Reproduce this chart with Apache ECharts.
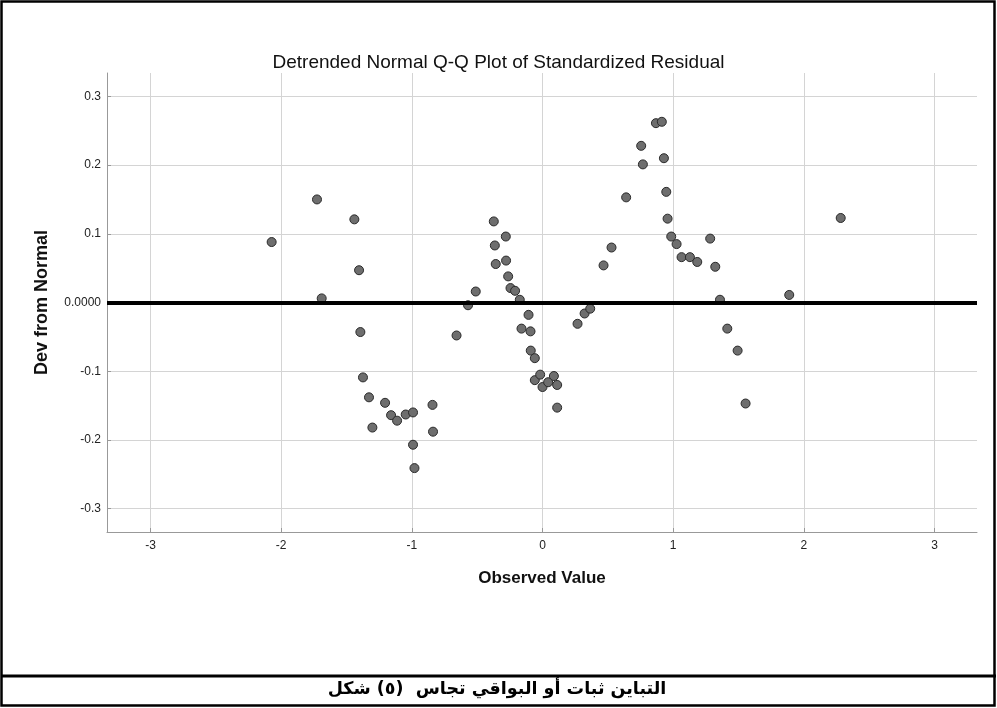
<!DOCTYPE html>
<html>
<head>
<meta charset="utf-8">
<title>Detrended Normal Q-Q Plot</title>
<script src="https://cdn.jsdelivr.net/npm/echarts@6/dist/echarts.min.js"></script>
<style>
  html, body { margin: 0; padding: 0; background: #fff; }
  #qqChart { width: 997px; height: 708px; }
</style>
</head>
<body>
<div id="qqChart"></div>
<script>
var obsX = [-2.073, -1.726, -1.690, -1.440, -1.404, -1.394, -1.374, -1.328, -1.302, -1.205,
            -1.159, -1.113, -1.047, -0.991, -0.991, -0.980, -0.842, -0.838, -0.658, -0.570,
            -0.511, -0.373, -0.365, -0.358, -0.281, -0.279, -0.263, -0.245, -0.210, -0.174,
            -0.161, -0.107, -0.092, -0.090, -0.059, -0.059, -0.018, 0.000, 0.043, 0.087,
            0.112, 0.112, 0.268, 0.322, 0.365, 0.467, 0.528, 0.640, 0.755, 0.768,
            0.868, 0.913, 0.929, 0.947, 0.957, 0.985, 1.026, 1.064, 1.128, 1.184,
            1.283, 1.322, 1.358, 1.414, 1.493, 1.554, 1.888, 2.282];
var devY = [0.088, 0.150, 0.006, 0.121, 0.047, -0.043, -0.109, -0.138, -0.182, -0.146,
            -0.164, -0.172, -0.163, -0.160, -0.207, -0.241, -0.149, -0.188, -0.048, -0.004,
            0.016, 0.118, 0.083, 0.056, 0.096, 0.061, 0.038, 0.021, 0.017, 0.004,
            -0.038, -0.018, -0.042, -0.070, -0.081, -0.113, -0.105, -0.123, -0.116, -0.107,
            -0.120, -0.153, -0.031, -0.016, -0.009, 0.054, 0.080, 0.153, 0.228, 0.201,
            0.261, 0.263, 0.210, 0.161, 0.122, 0.096, 0.085, 0.066, 0.066, 0.059,
            0.093, 0.052, 0.004, -0.038, -0.070, -0.147, 0.011, 0.123];

var xRange = [-3.333, 3.325];
var yRange = [-0.334, 0.334];
var refLine = [0];

var chartTitle = 'Detrended Normal Q-Q Plot of Standardized Residual';
var xName = 'Observed Value';
var yName = 'Dev from Normal';
// the figure shows these words left to right
var captionWords = ['شكل', '(٥)', 'تجاس', 'البواقي', 'أو', 'ثبات', 'التباين'];

initQQChart();

// one text element per word, placed left to right (canvas bidi would flip the order)
function captionGraphics(words, cx, top, fontSize) {
  var fontCss = 'bold ' + fontSize + 'px "DejaVu Sans"';
  var ctx = document.createElement('canvas').getContext('2d');
  ctx.font = fontCss;
  var space = ctx.measureText(' ').width;
  var widths = words.map(function (w) { return ctx.measureText(w).width; });
  var total = 0;
  widths.forEach(function (w, i) { total += w + (i ? space : 0); });
  total += space; // double space after the figure number
  var x = cx - total / 2;
  var out = [];
  words.forEach(function (w, i) {
    out.push({
      type: 'text',
      silent: true,
      x: x,
      y: top,
      style: {
        text: w,
        fontFamily: 'DejaVu Sans',
        fontSize: fontSize,
        fontWeight: 'bold',
        fill: '#000',
        align: 'left',
        verticalAlign: 'top'
      }
    });
    x += widths[i] + space + (i === 1 ? space : 0);
  });
  return out;
}

function initQQChart() {
  var dom = document.getElementById('qqChart');
  var myChart = echarts.init(dom, null, {renderer: 'canvas'});
  var points = [];
  for (var i = 0; i < obsX.length; i++) {
    points.push([obsX[i], devY[i]]);
  }
  var font = 'Liberation Sans, Arial, sans-serif';

  var frame = [
    {
      type: 'rect',
      silent: true,
      shape: {x: 1.5, y: 1.5, width: 993, height: 704},
      style: {fill: 'none', stroke: '#000', lineWidth: 2.5}
    },
    {
      type: 'line',
      silent: true,
      shape: {x1: 1, y1: 676, x2: 996, y2: 676},
      style: {stroke: '#000', lineWidth: 3}
    }
  ];

  var option = {
    backgroundColor: '#fff',
    animation: false,
    title: {
      text: chartTitle,
      left: 'center',
      top: 48,
      textStyle: {fontFamily: font, fontSize: 19, fontWeight: 'normal', color: '#111'}
    },
    grid: {left: 107, right: 20, top: 73, bottom: 176},
    xAxis: {
      type: 'value',
      min: xRange[0],
      max: xRange[1],
      name: xName,
      nameLocation: 'middle',
      nameGap: 38,
      nameTextStyle: {fontFamily: font, fontSize: 17, fontWeight: 'bold', color: '#111'},
      axisLine: {show: true, onZero: false, lineStyle: {color: '#999', width: 1}},
      axisTick: {show: true, inside: true, length: 4, lineStyle: {color: '#999'}},
      axisLabel: {
        fontFamily: font, fontSize: 12, color: '#222', margin: 8,
        showMinLabel: false, showMaxLabel: false
      },
      splitLine: {show: true, showMinLine: false, showMaxLine: false, lineStyle: {color: '#d4d4d4', width: 1}}
    },
    yAxis: {
      type: 'value',
      min: yRange[0],
      max: yRange[1],
      name: yName,
      nameLocation: 'middle',
      nameGap: 56,
      nameTextStyle: {fontFamily: font, fontSize: 18, fontWeight: 'bold', color: '#111'},
      axisLine: {show: true, onZero: false, lineStyle: {color: '#999', width: 1}},
      axisTick: {show: true, inside: true, length: 4, lineStyle: {color: '#999'}},
      axisLabel: {
        fontFamily: font, fontSize: 12, color: '#222', margin: 6,
        showMinLabel: false, showMaxLabel: false,
        formatter: function (v) {
          if (Math.abs(v) < 1e-9) return '0.0000';
          return v.toFixed(1);
        }
      },
      splitLine: {show: true, showMinLine: false, showMaxLine: false, lineStyle: {color: '#d4d4d4', width: 1}}
    },
    graphic: frame.concat(captionGraphics(captionWords, 497, 680, 17.5)),
    series: [
      {
        name: 'residual',
        type: 'scatter',
        symbol: 'circle',
        symbolSize: 9,
        itemStyle: {color: '#6e6e6e', borderColor: '#2a2a2a', borderWidth: 1, opacity: 1},
        data: points,
        markLine: {
          silent: true,
          symbol: ['none', 'none'],
          label: {show: false},
          lineStyle: {color: '#000', width: 4, type: 'solid'},
          data: refLine.map(function (v) { return {yAxis: v}; })
        }
      }
    ]
  };

  if (option && typeof option === 'object') {
    myChart.setOption(option, true);
  }
}
</script>
</body>
</html>
